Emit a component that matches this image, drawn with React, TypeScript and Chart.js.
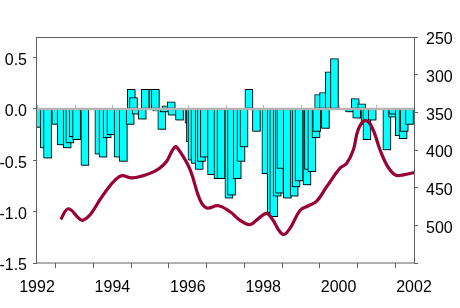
import { useEffect, useRef } from 'react';
import { Chart, registerables } from 'chart.js';

Chart.register(...registerables);

// Bar series (left axis): decimal year and anomaly value
const barYears = [
  1992.02, 1992.19, 1992.28, 1992.5, 1992.64, 1992.8, 1992.87, 1992.96, 1993.05, 1993.27,
  1993.64, 1993.75, 1993.86, 1993.96, 1994.15, 1994.29, 1994.47, 1994.5, 1994.56, 1994.63,
  1994.79, 1994.87, 1995.08, 1995.14, 1995.18, 1995.31, 1995.37, 1995.42, 1995.56, 1995.58,
  1995.78, 1996.03, 1996.07, 1996.11, 1996.19, 1996.3, 1996.36, 1996.44, 1996.63, 1996.8,
  1996.88, 1997.09, 1997.16, 1997.31, 1997.41, 1997.49, 1997.62, 1997.82, 1998.07, 1998.21,
  1998.28, 1998.37, 1998.43, 1998.47, 1998.64, 1998.82, 1998.87, 1998.95, 1999.16, 1999.2,
  1999.29, 1999.4, 1999.42, 1999.47, 1999.6, 1999.65, 1999.75, 1999.89, 2000.29, 2000.44,
  2000.48, 2000.61, 2000.7, 2000.75, 2000.89, 2001.28, 2001.43, 2001.44, 2001.61, 2001.71,
  2001.74, 2001.88,
];
const barValues = [
  -0.18, -0.38, -0.48, -0.15, -0.35, -0.38, -0.33, -0.27, -0.3, -0.55,
  -0.44, -0.47, -0.28, -0.25, -0.47, -0.51, -0.15, 0.19, 0.11, -0.05,
  -0.1, 0.19, 0.19, 0.19, -0.02, -0.2, -0.03, 0.03, 0.07, -0.06,
  -0.11, -0.14, -0.32, -0.5, -0.53, -0.59, -0.51, -0.47, -0.64, -0.68,
  -0.68, -0.87, -0.84, -0.68, -0.51, -0.37, 0.19, -0.22, -0.63, -1.01,
  -1.05, -0.85, -0.82, -0.58, -0.87, -0.85, -0.76, -0.7, -0.74, -0.59,
  -0.61, -0.28, -0.22, 0.14, 0.16, -0.19, 0.36, 0.49, -0.03, 0.1,
  -0.09, 0.05, -0.15, -0.3, -0.11, -0.4, -0.08, -0.05, -0.26, -0.29,
  -0.22, -0.15,
];

// Line series (right axis, reversed)
const lineYears = [
  1992.63, 1992.83, 1993.14, 1993.23, 1993.41, 1993.67, 1993.85, 1994.07, 1994.25, 1994.51,
  1994.82, 1995.09, 1995.26, 1995.44, 1995.66, 1995.79, 1996.06, 1996.32, 1996.5, 1996.81,
  1997.12, 1997.38, 1997.65, 1997.87, 1998.09, 1998.23, 1998.52, 1998.71, 1998.98, 1999.2,
  1999.42, 1999.68, 2000.04, 2000.21, 2000.39, 2000.52, 2000.7, 2000.88, 2001.1, 2001.28,
  2001.5, 2001.72, 2002.0,
];
const lineValues = [
  492, 478, 492, 493, 486, 466, 453, 440, 434, 437,
  434, 429, 424, 415, 396, 402, 426, 466, 477, 474,
  482, 493, 499, 491, 484, 491, 512, 504, 480, 474,
  468, 449, 424, 418, 400, 373, 361, 369, 400, 420,
  433, 433, 430,
];

const leftTickValues = [-1.5, -1.0, -0.5, 0.0, 0.5];
const rightTickValues = [250, 300, 350, 400, 450, 500, 550];
const rightTickLabels = ['250', '300', '350', '400', '450', '500', ''];
const xTickYears = [1992, 1993, 1994, 1995, 1996, 1997, 1998, 1999, 2000, 2001, 2002];
const xLabelYears = [1992, 1994, 1996, 1998, 2000, 2002];

const FONT = { family: '"Liberation Sans", Arial, sans-serif', size: 16 };
const AXIS_GRAY = '#606060';

const decorPlugin = {
  id: 'decor',
  beforeDatasetDraw(chart: any, args: any) {
    if (args.meta.type === 'bar') {
      const ctx = chart.ctx;
      ctx.save();
      ctx.shadowColor = 'rgba(0,0,0,0.35)';
      ctx.shadowOffsetX = 1.5;
      ctx.shadowOffsetY = 1.5;
      ctx.shadowBlur = 1;
    }
  },
  afterDatasetDraw(chart: any, args: any) {
    if (args.meta.type === 'bar') {
      const ctx = chart.ctx;
      ctx.restore();
      const { left, right } = chart.chartArea;
      const y0 = chart.scales.y.getPixelForValue(0);
      ctx.save();
      ctx.strokeStyle = '#b4b4b4';
      ctx.lineWidth = 2.5;
      ctx.beginPath();
      ctx.moveTo(left, y0);
      ctx.lineTo(right, y0);
      ctx.stroke();
      ctx.lineWidth = 1;
      ctx.beginPath();
      xTickYears.forEach((yr) => {
        const x = Math.round(chart.scales.x.getPixelForValue(yr)) + 0.5;
        ctx.moveTo(x, y0 - 4);
        ctx.lineTo(x, y0);
      });
      ctx.stroke();
      ctx.restore();
    }
  },
  afterDraw(chart: any) {
    const ctx = chart.ctx;
    const { left, right, top, bottom } = chart.chartArea;
    ctx.save();
    ctx.strokeStyle = AXIS_GRAY;
    ctx.lineWidth = 1;
    ctx.strokeRect(Math.round(left) - 0.5, Math.round(top) + 0.5, Math.round(right - left) + 1, Math.round(bottom - top) - 0.5);
    ctx.restore();
  },
};

export default function App() {
  const ref = useRef<HTMLCanvasElement | null>(null);

  useEffect(() => {
    if (!ref.current) return;
    const chart = new Chart(ref.current, {
      type: 'bar',
      data: {
        datasets: [
          {
            type: 'line',
            data: lineYears.map((x, i) => ({ x, y: lineValues[i] })),
            yAxisID: 'y2',
            borderColor: '#990033',
            borderWidth: 3.2,
            pointRadius: 0,
            tension: 0.4,
            fill: false,
            order: 0,
          } as any,
          {
            type: 'bar',
            data: barYears.map((x, i) => ({ x, y: barValues[i] })),
            yAxisID: 'y',
            backgroundColor: '#00FFFF',
            borderColor: '#000000',
            borderWidth: 1,
            borderSkipped: false,
            barThickness: 8,
            order: 1,
          } as any,
        ],
      },
      options: {
        responsive: false,
        animation: false,
        layout: { padding: { top: 37, left: 0, right: 0, bottom: 0 } },
        plugins: { legend: { display: false }, tooltip: { enabled: false } },
        scales: {
          x: {
            type: 'linear',
            min: 1992,
            max: 2002,
            offset: false,
            afterBuildTicks: (s: any) => {
              s.ticks = xTickYears.map((v) => ({ value: v }));
            },
            afterFit: (s: any) => {
              s.height = 45;
            },
            ticks: {
              autoSkip: false,
              maxRotation: 0,
              padding: 10,
              color: '#000',
              font: FONT,
              callback: (v: any) => (xLabelYears.includes(Number(v)) ? String(v) : ''),
            },
            grid: { drawOnChartArea: false, drawTicks: true, tickLength: 5, color: AXIS_GRAY },
            border: { display: false },
          },
          y: {
            type: 'linear',
            position: 'left',
            min: -1.5,
            max: 0.7,
            afterBuildTicks: (s: any) => {
              s.ticks = leftTickValues.map((v) => ({ value: v }));
            },
            afterFit: (s: any) => {
              s.width = 37;
            },
            ticks: {
              padding: 6,
              labelOffset: 3,
              color: '#000',
              font: FONT,
              callback: (v: any) => Number(v).toFixed(1),
            },
            grid: { drawOnChartArea: false, drawTicks: true, tickLength: 4, color: AXIS_GRAY },
            border: { display: false },
          },
          y2: {
            type: 'linear',
            position: 'right',
            reverse: true,
            min: 250,
            max: 550,
            afterBuildTicks: (s: any) => {
              s.ticks = rightTickValues.map((v) => ({ value: v }));
            },
            afterFit: (s: any) => {
              s.width = 46;
            },
            ticks: {
              padding: 8,
              labelOffset: 3,
              color: '#000',
              font: FONT,
              callback: (v: any) => rightTickLabels[rightTickValues.indexOf(Number(v))] ?? '',
            },
            grid: { drawOnChartArea: false, drawTicks: true, tickLength: 4, color: AXIS_GRAY },
            border: { display: false },
          },
        },
      } as any,
      plugins: [decorPlugin],
    });
    return () => chart.destroy();
  }, []);

  return (
    <div style={{ position: 'absolute', left: 0, top: 0, width: 460, height: 308, background: '#fff' }}>
      <canvas ref={ref} width={460} height={308} />
    </div>
  );
}
